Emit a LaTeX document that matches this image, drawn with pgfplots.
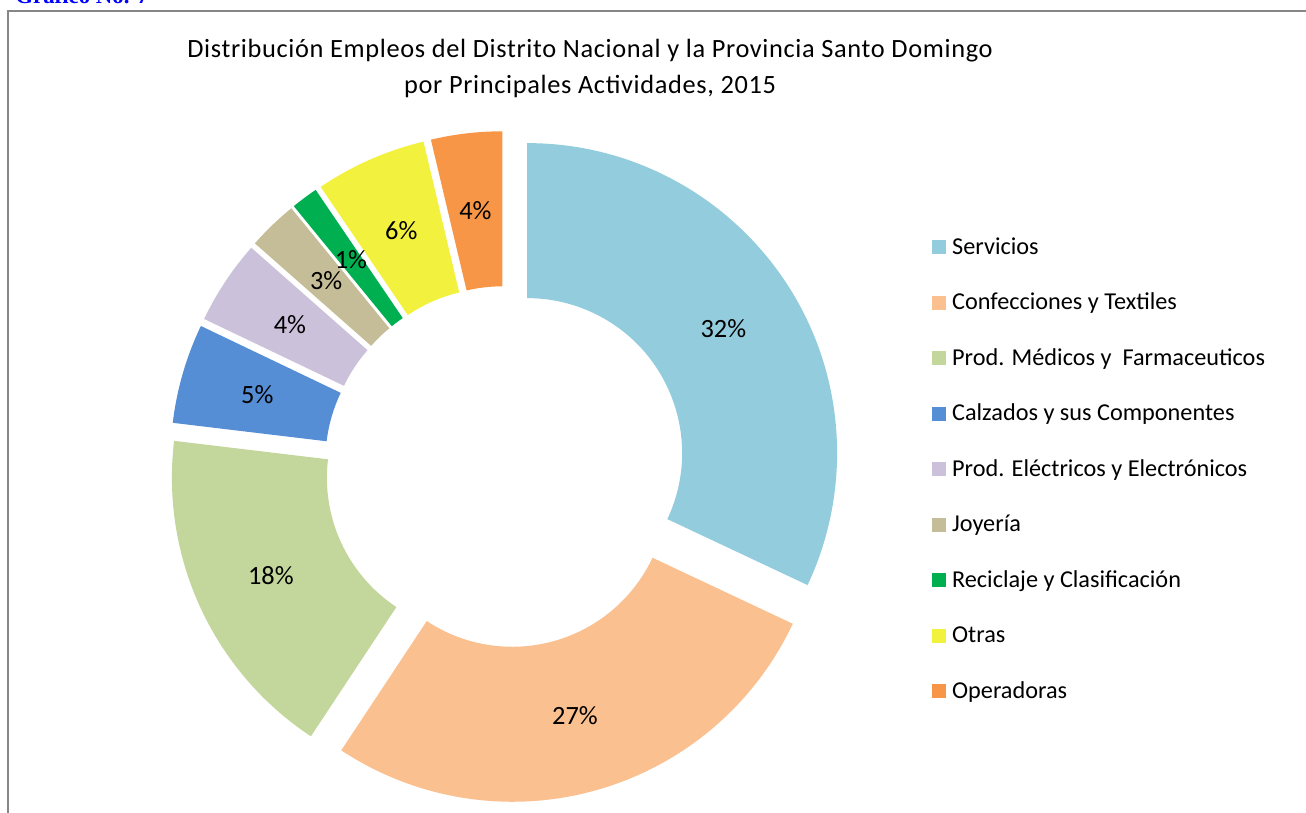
\documentclass[border=0pt]{standalone}
\usepackage{fontspec}
\setmainfont{Carlito}
\newfontfamily\seriffont{Liberation Serif}
\newfontfamily\titlefont[LetterSpace=2.5]{Carlito}
\usepackage{pgfplots}
\usepackage{pgfplotstable}
\pgfplotsset{compat=1.18}
\usetikzlibrary{calc}

\definecolor{col0}{HTML}{93CDDD}
\definecolor{col1}{HTML}{FAC090}
\definecolor{col2}{HTML}{C3D69B}
\definecolor{col3}{HTML}{558ED5}
\definecolor{col4}{HTML}{CCC1DA}
\definecolor{col5}{HTML}{C4BD97}
\definecolor{col6}{HTML}{00B050}
\definecolor{col7}{HTML}{F2F13D}
\definecolor{col8}{HTML}{F79646}
\definecolor{framegray}{HTML}{868686}

% share of employment, percent (clockwise from 12 o'clock)
\pgfplotstableread[col sep=comma]{
name,share
Servicios,32.0
Confecciones y Textiles,27.3
Prod. Médicos y~ Farmaceuticos,17.6
Calzados y sus Componentes,5.2
Prod. Eléctricos y Electrónicos,4.4
Joyería,2.6
Reciclaje y Clasificación,1.4
Otras,5.8
Operadoras,3.7
}\donut

\pgfplotsset{legsq/.style={legend image code/.code={\fill[##1, draw=none] (0cm,0cm) rectangle (0.28cm,0.28cm);}}}

\begin{document}
\begin{tikzpicture}
\useasboundingbox (0,0) rectangle (26.12cm,16.24cm);
\draw[framegray, line width=0.026cm] (0.16cm,-1cm) rectangle (28cm,16.02cm);
\node[anchor=base west, inner sep=0pt, text=blue, font=\seriffont\bfseries\fontsize{13}{15}\selectfont]
  at (0.3cm,16.16cm) {Gráfico No. 7};

% cumulative angles for each slice
\def\dcum{0}
\pgfplotsforeachungrouped \i in {0,...,8}{%
  \pgfplotstablegetelem{\i}{share}\of\donut
  \let\dval\pgfplotsretval
  \pgfmathsetmacro\da{90-3.6*\dcum}%
  \pgfmathsetmacro\dcum{\dcum+\dval}%
  \pgfmathsetmacro\db{90-3.6*\dcum}%
  \pgfmathsetmacro\dm{(\da+\db)/2}%
  \pgfmathtruncatemacro\dl{round(\dval)}%
  \expandafter\xdef\csname sa\i\endcsname{\da}%
  \expandafter\xdef\csname sb\i\endcsname{\db}%
  \expandafter\xdef\csname sm\i\endcsname{\dm}%
  \expandafter\xdef\csname sl\i\endcsname{\dl}%
  \pgfplotstablegetelem{\i}{name}\of\donut
  \expandafter\global\expandafter\let\csname dn\i\endcsname\pgfplotsretval
}

\begin{axis}[
  at={(0,0)}, anchor=south west,
  x=0.02cm, y=0.02cm,
  xmin=0, xmax=1306, ymin=0, ymax=812,
  hide axis, clip=false,
  legend cell align=left,
  legend style={at={(0.7136,0.7210)}, anchor=north west,
    draw=none, fill=none, inner sep=0pt, outer sep=0pt,
    row sep=0pt, column sep=0.12cm,
    font=\fontsize{13.8}{16}\selectfont,
    nodes={inner sep=0pt, text height=0.555cm, text depth=0.555cm}},
]
\node[anchor=base, font=\titlefont\fontsize{15}{18}\selectfont] at (axis cs:590,754.7)
  {Distribución Empleos del Distrito Nacional y la Provincia Santo Domingo};
\node[anchor=base, font=\titlefont\fontsize{15}{18}\selectfont] at (axis cs:590,718)
  {por Principales Actividades, 2015};

\pgfplotsinvokeforeach{0,...,8}{%
  \addlegendimage{legsq, fill=col#1}
  \addlegendentry{\csname dn#1\endcsname}
  \edef\temp{\noexpand\fill[col#1]
    ($(axis cs:505.2,345)+(\csname sm#1\endcsname:0.516cm)$)
    ++(\csname sa#1\endcsname:6.2cm)
    arc[start angle=\csname sa#1\endcsname, end angle=\csname sb#1\endcsname, radius=6.2cm]
    -- ($(axis cs:505.2,345)+(\csname sm#1\endcsname:0.516cm)+(\csname sb#1\endcsname:3.1cm)$)
    arc[start angle=\csname sb#1\endcsname, end angle=\csname sa#1\endcsname, radius=3.1cm]
    -- cycle;}\temp
}
\pgfplotsinvokeforeach{0,...,8}{%
  \edef\temp{\noexpand\node[font=\noexpand\fontsize{15}{18}\noexpand\selectfont]
    at ($(axis cs:505.2,345)+(\csname sm#1\endcsname:0.516cm)+(\csname sm#1\endcsname:4.65cm)$)
    {\csname sl#1\endcsname\noexpand\%};}\temp
}
\end{axis}
\end{tikzpicture}
\end{document}
